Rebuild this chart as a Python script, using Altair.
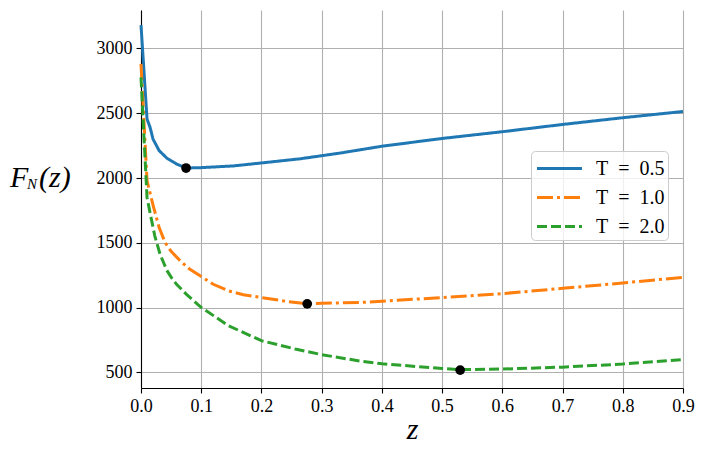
import altair as alt
import pandas as pd

# ---- data ----
labels = ["T\u2002=\u20020.5", "T\u2002=\u20021.0", "T\u2002=\u20022.0"]
colors = ["#1f77b4", "#ff7f0e", "#2ca02c"]
dashes = [[1, 0], [16, 4, 3, 4], [10, 4]]

z_blue = [0.0, 0.01, 0.015, 0.02, 0.03, 0.043, 0.059, 0.075, 0.1, 0.153, 0.2,
          0.264, 0.33, 0.4, 0.5, 0.6, 0.7, 0.8, 0.9]
f_blue = [3180, 2455, 2392, 2300, 2212, 2153, 2108, 2077, 2080, 2093, 2116,
          2148, 2192, 2245, 2305, 2357, 2413, 2465, 2513]

z_orange = [0.0, 0.01, 0.02, 0.03, 0.04, 0.05, 0.065, 0.08, 0.1, 0.12, 0.145,
            0.17, 0.2, 0.245, 0.276, 0.3, 0.366, 0.4, 0.5, 0.6, 0.7, 0.8, 0.9]
f_orange = [2880, 1980, 1790, 1620, 1502, 1434, 1362, 1300, 1240, 1180, 1130,
            1100, 1078, 1046, 1030, 1033, 1040, 1050, 1077, 1108, 1149, 1190, 1234]

z_green = [0.0, 0.01, 0.015, 0.023, 0.0316, 0.0426, 0.05, 0.059, 0.076, 0.095, 0.1,
           0.145, 0.2, 0.256, 0.3, 0.366, 0.4, 0.5, 0.53, 0.6, 0.7, 0.8, 0.9]
f_green = [2776, 1850, 1732, 1552, 1413, 1290, 1235, 1180, 1100, 1022, 1002,
           861, 745, 681, 637, 586, 567, 530, 522, 526, 541, 565, 600]

min_z = [0.0748, 0.276, 0.53]
min_f = [2077, 1029, 518]

x_ticks = [0.0, 0.1, 0.2, 0.3, 0.4, 0.5, 0.6, 0.7, 0.8, 0.9]
y_ticks = [500, 1000, 1500, 2000, 2500, 3000]

# ---- tables ----
rows = []
for lab, zs, fs in zip(labels, [z_blue, z_orange, z_green], [f_blue, f_orange, f_green]):
    for z, f in zip(zs, fs):
        rows.append({"z": z, "F": f, "series": lab})
lines_df = pd.DataFrame(rows)
mins_df = pd.DataFrame({"z": min_z, "F": min_f})

xscale = alt.Scale(domain=[0, 0.9], nice=False, zero=False)
yscale = alt.Scale(domain=[380, 3296], nice=False, zero=False)

lines = alt.Chart(lines_df).mark_line(strokeWidth=3).encode(
    x=alt.X("z:Q", scale=xscale,
            axis=alt.Axis(values=x_ticks, format=".1f", title="z", labelFlush=False,
                          titleFont="Liberation Serif", titleFontStyle="italic",
                          titleFontSize=30, titleFontWeight="normal",
                          titleBaseline="alphabetic", titleY=50)),
    y=alt.Y("F:Q", scale=yscale, axis=alt.Axis(values=y_ticks, format="d", title=None)),
    color=alt.Color("series:N", scale=alt.Scale(domain=labels, range=colors),
                    legend=alt.Legend(title=None)),
    strokeDash=alt.StrokeDash("series:N", scale=alt.Scale(domain=labels, range=dashes),
                              legend=alt.Legend(title=None)),
    order="z:Q",
)

dots = alt.Chart(mins_df).mark_circle(size=95, color="black", opacity=1).encode(
    x=alt.X("z:Q", scale=xscale),
    y=alt.Y("F:Q", scale=yscale),
)

t_F = alt.Chart(pd.DataFrame({"t": ["F"]})).mark_text(
    font="Liberation Serif", fontStyle="italic", fontSize=30, align="left",
    baseline="alphabetic", color="black").encode(
    x=alt.value(-131), y=alt.value(177), text="t:N")
t_N = alt.Chart(pd.DataFrame({"t": ["N"]})).mark_text(
    font="Liberation Serif", fontStyle="italic", fontSize=15, align="left",
    baseline="alphabetic", color="black").encode(
    x=alt.value(-114), y=alt.value(178.5), text="t:N")
t_z = alt.Chart(pd.DataFrame({"t": ["(z)"]})).mark_text(
    font="Liberation Serif", fontStyle="italic", fontSize=30, align="left",
    baseline="alphabetic", color="black").encode(
    x=alt.value(-102), y=alt.value(177), text="t:N")

chart = alt.layer(lines, dots, t_F, t_N, t_z).properties(
    width=542, height=378,
    autosize=alt.AutoSizeParams(type="none"),
    padding={"left": 133, "top": 2, "right": 14, "bottom": 58},
).configure_view(stroke=None).configure_axis(
    domainColor="black", domainWidth=1.1, tickColor="black", tickWidth=1.1,
    tickSize=5, gridColor="#b0b0b0", gridWidth=1.1, labelFont="Liberation Serif",
    labelFontSize=18, labelColor="black", labelPadding=4,
).configure_legend(
    orient="none", legendX=390, legendY=141, padding=3,
    fillColor="rgba(255,255,255,0.8)", strokeColor="#cccccc", cornerRadius=4,
    symbolType="M-1.73,0L1.73,0", symbolSize=676, symbolStrokeWidth=3,
    symbolOffset=11, labelOffset=22, labelFont="Liberation Serif",
    labelFontSize=20, labelColor="black", rowPadding=4,
)

chart.save("out.html", embed_options={"renderer": "svg", "actions": False})
